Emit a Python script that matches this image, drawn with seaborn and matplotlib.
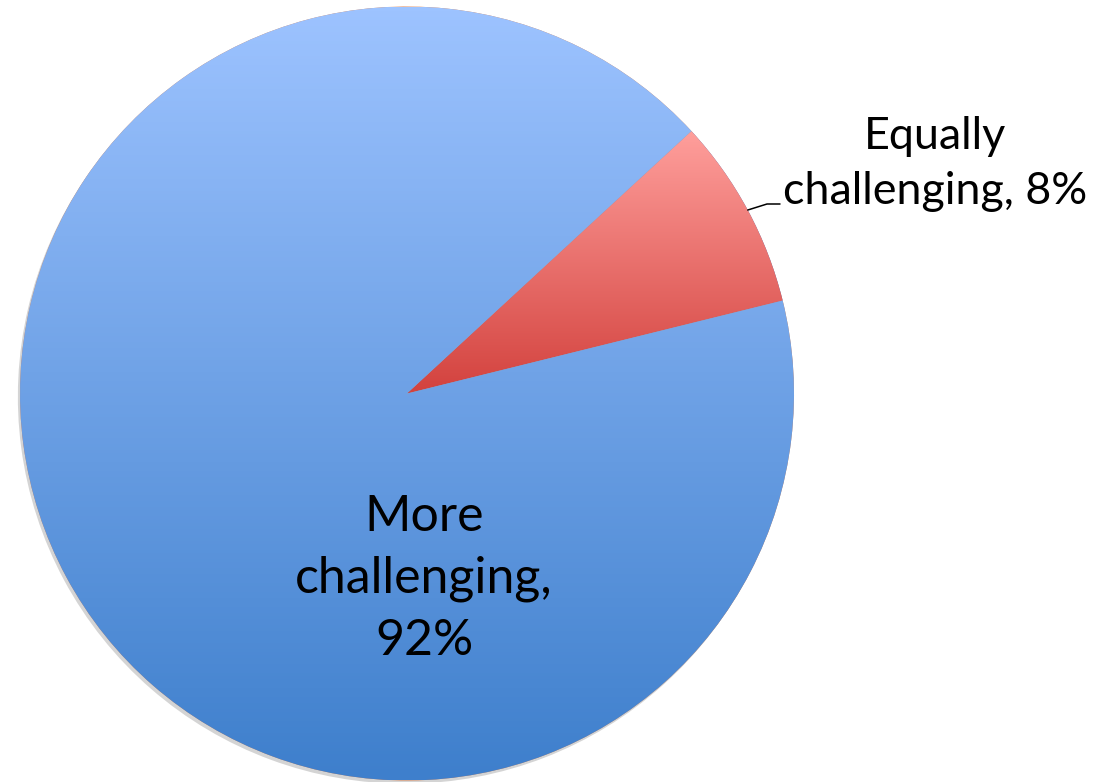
import numpy as np
import matplotlib
matplotlib.use("Agg")
import matplotlib.pyplot as plt
import seaborn as sns
from matplotlib.colors import LinearSegmentedColormap

sns.set_theme(style="white")
plt.rcParams['font.family'] = ['Lato', 'DejaVu Sans']

# ---- data ----
categories = ["Equally challenging", "More challenging"]
values = [8, 92]
label_texts = ["Equally\nchallenging, 8%", "More\nchallenging,\n92%"]

# gradient colours (top -> bottom)
grad_colors = [("#FF9F9C", "#D3423E"), ("#9DC3FF", "#3E7FCC")]

W, H = 1095, 782
fig = plt.figure(figsize=(W / 100, H / 100), dpi=100)
fig.patch.set_facecolor("white")
cx, cy, R = 407, 393.5, 387
ax = fig.add_axes([(cx - R) / W, (H - cy - R) / H, 2 * R / W, 2 * R / H])

wedges, _ = ax.pie(values, startangle=13.9, counterclock=True,
                   wedgeprops=dict(linewidth=0),
                   shadow=dict(ox=-0.004, oy=-0.006, facecolor="#a0a0a0",
                               edgecolor="none", alpha=0.45))
ax.set_xlim(-1, 1)
ax.set_ylim(-1, 1)
ax.set_aspect("auto")

# vertical gradient fill clipped to each wedge
for w, (ctop, cbot) in zip(wedges, grad_colors):
    cmap = LinearSegmentedColormap.from_list("g", [cbot, ctop])
    bb = w.get_path().get_extents(w.get_patch_transform())
    grad = np.linspace(0, 1, 256).reshape(-1, 1)
    im = ax.imshow(grad, cmap=cmap, origin="lower", aspect="auto",
                   extent=[bb.x0, bb.x1, bb.y0, bb.y1], zorder=w.get_zorder() + 0.05,
                   interpolation="bilinear")
    im.set_clip_path(w)
ax.set_xlim(-1, 1)
ax.set_ylim(-1, 1)

def px2data(x, y):
    return ((x - cx) / R, (cy - y) / R)

# label for small slice with leader line
w0 = wedges[0]
mid = np.deg2rad((w0.theta1 + w0.theta2) / 2)
p0 = (np.cos(mid), np.sin(mid))
p1 = px2data(767, 204)
p2 = px2data(780, 204)
ax.plot([p0[0], p1[0], p2[0]], [p0[1], p1[1], p2[1]], color="black", lw=1.1,
        clip_on=False, zorder=5)
tx, ty = px2data(935, 204)
ax.text(tx, ty, label_texts[0], ha="center", va="baseline", multialignment="center",
        fontsize=32.3, linespacing=1.41, color="black", clip_on=False, zorder=6)

# label inside large slice
mx, my = px2data(424, 655)
ax.text(mx, my, label_texts[1], ha="center", va="baseline", multialignment="center",
        fontsize=36, linespacing=1.43, color="black", zorder=6)

fig.savefig("out.png", dpi=100, facecolor="white")
